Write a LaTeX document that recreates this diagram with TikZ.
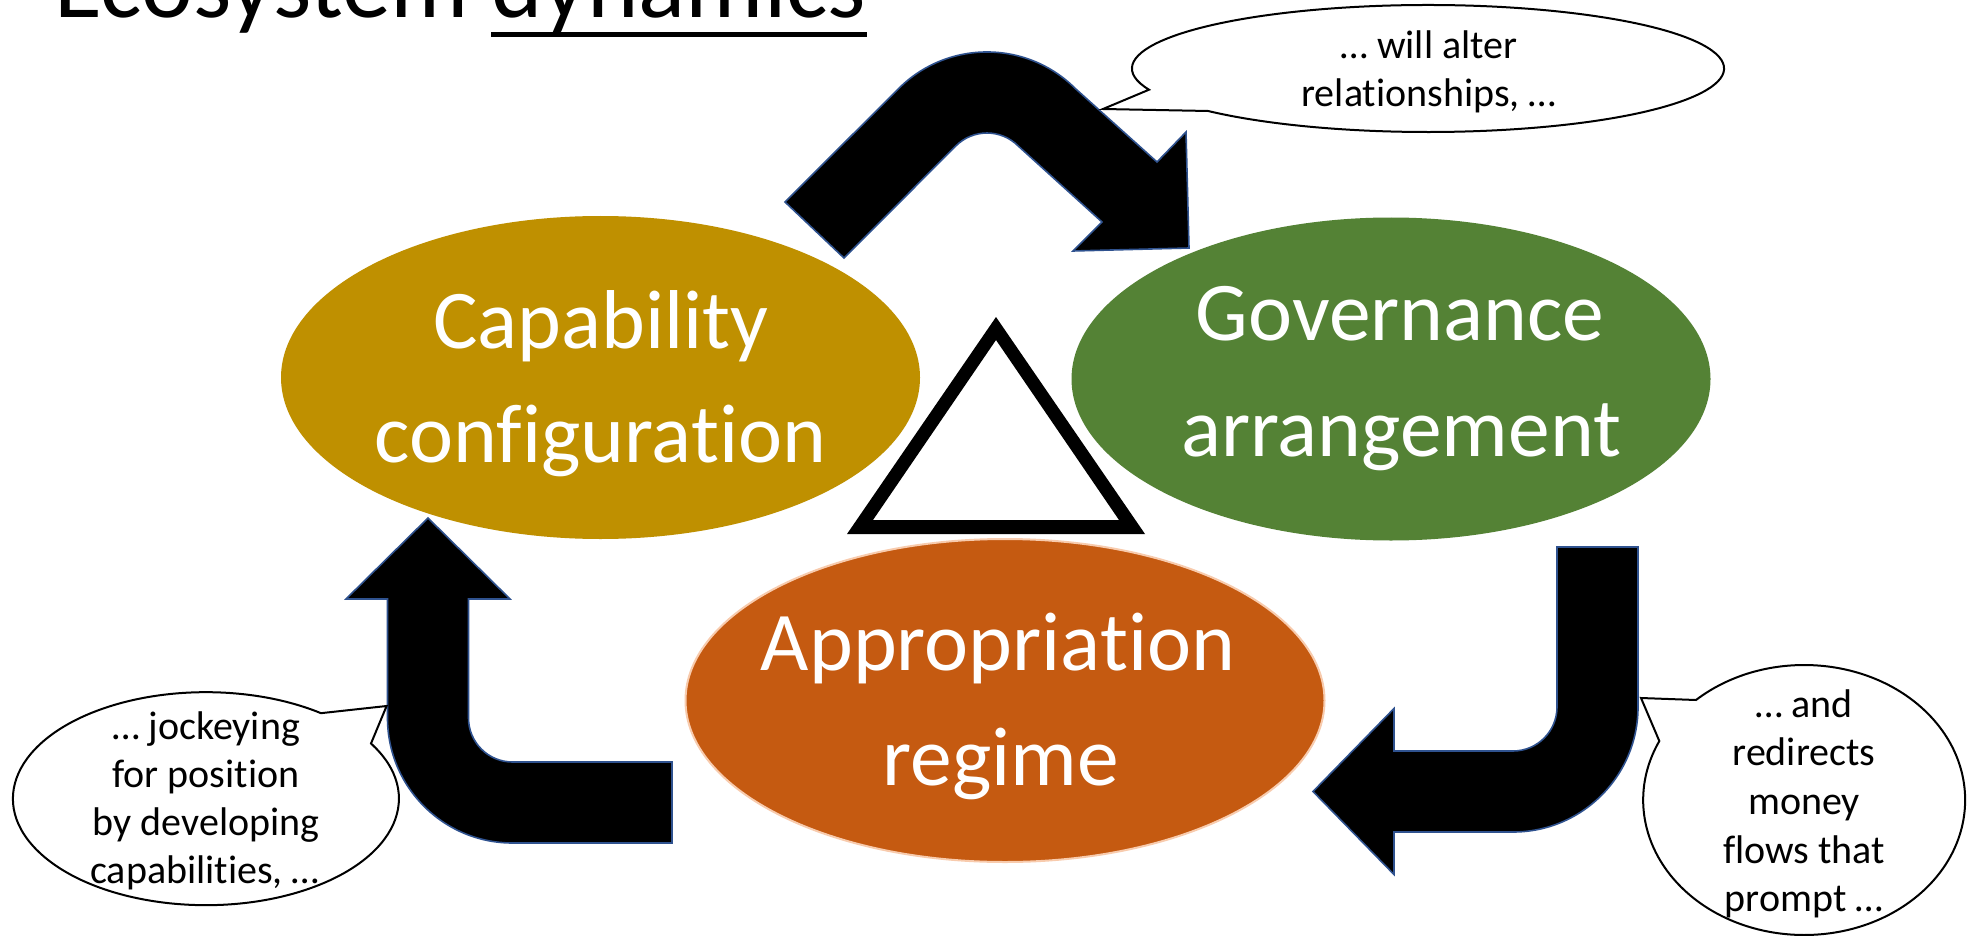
\documentclass[tikz,border=0pt]{standalone}
\usepackage{fontspec}
\setmainfont{Carlito}[Ligatures={NoCommon}]
\usetikzlibrary{shapes.geometric}
\definecolor{goldc}{HTML}{BF9000}
\definecolor{greenc}{HTML}{548235}
\definecolor{orangec}{HTML}{C55A11}
\definecolor{peach}{HTML}{F8CBAD}
\definecolor{arrowedge}{HTML}{2F528F}
\begin{document}
\begin{tikzpicture}[x=1pt,y=-1pt,
  blob/.style={ellipse, inner sep=0pt, minimum width=639pt, minimum height=323pt},
  bigtxt/.style={anchor=base, inner sep=0pt, text=white, font=\fontsize{83.5}{100}\selectfont},
  smalltxt/.style={anchor=base, inner sep=0pt, text=black, font=\fontsize{40}{48}\selectfont},
  titletxt/.style={anchor=base west, inner sep=0pt, text=black, font=\fontsize{98}{110}\selectfont},
  blockarrow/.style={fill=black, draw=arrowedge, line width=1.6pt, line join=miter},
  bubble/.style={fill=white, draw=black, line width=2pt, line join=miter}]
\useasboundingbox (0,0) rectangle (1975,936);
\fill[white] (0,0) rectangle (1975,936);
\clip (0,0) rectangle (1975,936);

% title
\node[titletxt] (ttl1) at (54,18) {Ecosystem};
\node[titletxt] (ttl2) at ([xshift=22pt]ttl1.base east) {dynamics};
\draw[line width=5pt] ([yshift=-16.5pt]ttl2.base west) -- ([yshift=-16.5pt]ttl2.base east);

% ellipses
\node[blob, fill=goldc] (cap) at (600.5,377.5) {};
\node[blob, fill=greenc] (gov) at (1391,379) {};
\node[blob, fill=orangec, draw=peach, line width=2pt] (app) at (1005,700.5) {};

% triangle
\fill[black, even odd rule] (996,317) -- (1145,534) -- (847,534) -- cycle
  (996,340) -- (1119,520) -- (873,520) -- cycle;

% block arrows
\draw[blockarrow] (785,202) -- (898.6,88.6) arc[start angle=225,end angle=315,radius=125]
  -- (1157,162) -- (1186,132) -- (1189,248) -- (1073,251) -- (1102,222)
  -- (1018.1,145.9) arc[start angle=315,end angle=225,radius=44] -- (844,258) -- cycle;
\draw[blockarrow] (672,762) -- (512.5,762) arc[start angle=90,end angle=180,radius=44]
  -- (468.5,599) -- (510,599) -- (428,518) -- (346,599) -- (387.5,599)
  -- (387.5,718) arc[start angle=180,end angle=90,radius=125] -- (672,843) -- cycle;
\draw[blockarrow] (1557,547) -- (1557,707) arc[start angle=0,end angle=90,radius=44]
  -- (1394,751) -- (1394,708.5) -- (1313,791.5) -- (1394,874.5) -- (1394,832)
  -- (1513,832) arc[start angle=90,end angle=0,radius=125] -- (1638,547) -- cycle;

% callouts
\coordinate (tip1) at (1103,109);
\coordinate (tip2) at (386.6,706);
\coordinate (tip3) at (1641,698);
\filldraw[bubble] (1149,89.7) arc[start angle=160.5,end angle=498,x radius=296,y radius=63.5] -- (tip1) -- cycle;
\filldraw[bubble] (371,743.5) arc[start angle=-31.2,end angle=306.6,x radius=193,y radius=106.5] -- (tip2) -- cycle;
\filldraw[bubble] (1696,700) arc[start angle=227.8,end angle=565.9,x radius=161,y radius=135] -- (tip3) -- cycle;

% ellipse texts
\node[bigtxt] (capt1) at (601,348) {Capability};
\node[bigtxt] (capt2) at (600.5,462) {configuration};
\node[bigtxt] (govt1) at (1400,340) {Governance};
\node[bigtxt] (govt2) at (1401,456) {arrangement};
\node[bigtxt] (appt1) at (998,670) {Appropriation};
\node[bigtxt] (appt2) at (1000.5,785) {regime};

% callout texts
\node[smalltxt] (c1a) at (1429,59) {… will alter};
\node[smalltxt] (c1b) at (1429,107) {relationships, …};
\node[smalltxt] (c2a) at (206,739) {… jockeying};
\node[smalltxt] (c2b) at (206,787) {for position};
\node[smalltxt] (c2c) at (206,835) {by developing};
\node[smalltxt] (c2d) at (205,883) {capabilities, …};
\node[smalltxt] (c3a) at (1804,717) {… and};
\node[smalltxt] (c3b) at (1804,765) {redirects};
\node[smalltxt] (c3c) at (1804,814) {money};
\node[smalltxt] (c3d) at (1804,863) {flows that};
\node[smalltxt] (c3e) at (1804,911) {prompt …};
\end{tikzpicture}
\end{document}
